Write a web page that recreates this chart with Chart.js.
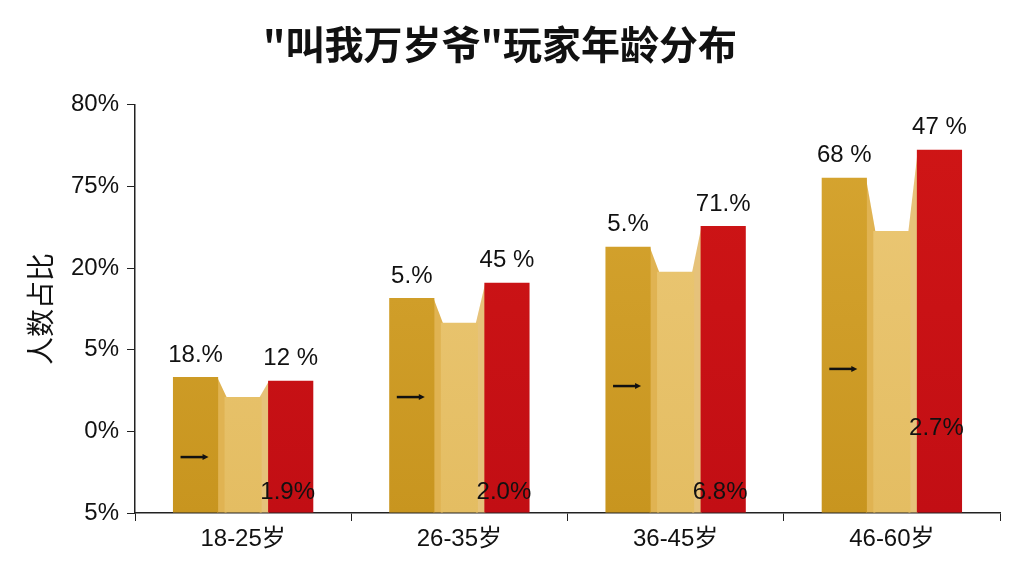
<!DOCTYPE html>
<html>
<head>
<meta charset="utf-8">
<script src="https://cdn.jsdelivr.net/npm/chart.js@4"></script>
<style>
  html, body { margin: 0; padding: 0; background: #fff; }
  #wrap { width: 1024px; height: 576px; }
</style>
</head>
<body>
<div id="wrap"><canvas id="ageChart"></canvas></div>
<script>
const categories = ['18-25岁', '26-35岁', '36-45岁', '46-60岁'];
// bar heights in axis units (axis runs 0..100, ticks every 20)
const darkGold = [33.3, 52.7, 65.2, 82.1];
const lightGold = [28.4, 46.6, 59.1, 69.1];
const red = [32.4, 56.4, 70.3, 89.0];
const yTickLabels = ['5%', '0%', '5%', '20%', '75%', '80%'];
const darkLabels = ['18.%', '5.%', '5.%', '68 %'];
const redLabels = ['12 %', '45 %', '71.%', '47 %'];
const innerLabels = ['1.9%', '2.0%', '6.8%', '2.7%'];
const innerLabelPos = [5, 5, 5, 20.8];
const arrowPos = [13.7, 28.4, 31.1, 35.3];

const FONT = '"Liberation Sans", "Noto Sans CJK SC", sans-serif';

// slanted faces between the bars + value labels + little arrows
const decorations = {
  id: 'decorations',
  beforeDatasetsDraw(chart) {
    const ctx = chart.ctx;
    const d0 = chart.getDatasetMeta(0).data;
    const d1 = chart.getDatasetMeta(1).data;
    const d2 = chart.getDatasetMeta(2).data;
    ctx.save();
    for (let i = 0; i < d0.length; i++) {
      const a = d0[i], b = d1[i], c = d2[i];
      const base = a.base;
      ctx.fillStyle = '#e0b352';
      ctx.beginPath();
      ctx.moveTo(a.x + a.width / 2 - 1, a.y);
      ctx.lineTo(b.x - b.width / 2 + 2, b.y);
      ctx.lineTo(b.x - b.width / 2 + 2, base);
      ctx.lineTo(a.x + a.width / 2 - 1, base);
      ctx.closePath();
      ctx.fill();
      ctx.fillStyle = '#e6c27a';
      ctx.beginPath();
      ctx.moveTo(b.x + b.width / 2 - 2, b.y);
      ctx.lineTo(c.x - c.width / 2 + 1, c.y);
      ctx.lineTo(c.x - c.width / 2 + 1, base);
      ctx.lineTo(b.x + b.width / 2 - 2, base);
      ctx.closePath();
      ctx.fill();
    }
    ctx.restore();
  },
  afterDatasetsDraw(chart) {
    const ctx = chart.ctx;
    const y = chart.scales.y;
    const d0 = chart.getDatasetMeta(0).data;
    const d2 = chart.getDatasetMeta(2).data;
    ctx.save();
    ctx.font = '24px ' + FONT;
    ctx.textAlign = 'center';
    ctx.textBaseline = 'middle';
    for (let i = 0; i < d0.length; i++) {
      ctx.fillStyle = '#111';
      ctx.fillText(darkLabels[i], d0[i].x, d0[i].y - 22);
      ctx.fillText(redLabels[i], d2[i].x, d2[i].y - 22);
      ctx.fillText(innerLabels[i], d2[i].x - 3, y.getPixelForValue(innerLabelPos[i]));
      // arrow marker
      const ay = y.getPixelForValue(arrowPos[i]);
      const ax = d0[i].x - 2;
      ctx.strokeStyle = '#111';
      ctx.lineWidth = 2.5;
      ctx.beginPath();
      ctx.moveTo(ax - 13, ay);
      ctx.lineTo(ax + 11, ay);
      ctx.stroke();
      ctx.beginPath();
      ctx.moveTo(ax + 15, ay);
      ctx.lineTo(ax + 9, ay - 3);
      ctx.lineTo(ax + 9, ay + 3);
      ctx.closePath();
      ctx.fill();
    }
    ctx.restore();
  }
};

function goldGradient(ctx, c1, c2) {
  const area = ctx.chart.chartArea;
  if (!area) return c1;
  const g = ctx.chart.ctx.createLinearGradient(0, area.top, 0, area.bottom);
  g.addColorStop(0, c1);
  g.addColorStop(1, c2);
  return g;
}

new Chart(document.getElementById('ageChart').getContext('2d'), {
  type: 'bar',
  data: {
    labels: categories,
    datasets: [
      {
        label: 'a',
        data: darkGold,
        backgroundColor: ctx => goldGradient(ctx, '#d7a632', '#c8951f'),
        categoryPercentage: 0.66,
        barPercentage: 0.95
      },
      {
        label: 'b',
        data: lightGold,
        backgroundColor: ctx => goldGradient(ctx, '#ecc978', '#e4bd62'),
        categoryPercentage: 0.66,
        barPercentage: 0.78
      },
      {
        label: 'c',
        data: red,
        backgroundColor: ctx => goldGradient(ctx, '#d01616', '#c20e14'),
        categoryPercentage: 0.66,
        barPercentage: 0.95
      }
    ]
  },
  options: {
    responsive: true,
    maintainAspectRatio: false,
    animation: false,
    layout: { padding: { left: 0, right: 24, top: 0, bottom: 10 } },
    plugins: {
      legend: { display: false },
      tooltip: { enabled: false },
      title: {
        display: true,
        text: '"叫我万岁爷"玩家年龄分布',
        color: '#111',
        font: { family: '"Noto Sans CJK SC", sans-serif', size: 39, weight: 'bold' },
        padding: { top: 21, bottom: 37 }
      }
    },
    scales: {
      x: {
        grid: { display: true, offset: true, drawOnChartArea: false, color: '#222', tickLength: 8 },
        border: { color: '#222', width: 1.5 },
        ticks: { color: '#111', font: { family: FONT, size: 24 }, padding: 4 },
        afterFit(scale) { scale.height = 53; }
      },
      y: {
        min: 0,
        max: 100,
        grid: { display: true, drawOnChartArea: false, color: '#222', tickLength: 8 },
        border: { color: '#222', width: 1.5 },
        ticks: {
          stepSize: 20,
          color: '#111',
          font: { family: FONT, size: 24 },
          padding: 8,
          callback: (v) => yTickLabels[Math.round(v / 20)]
        },
        title: {
          display: true,
          text: '人数占比',
          color: '#111',
          font: { family: '"Noto Sans CJK SC", sans-serif', size: 28 },
          padding: { top: 24, bottom: 10 }
        },
        afterFit(scale) { scale.width = 135; }
      }
    }
  },
  plugins: [decorations]
});
</script>
</body>
</html>
